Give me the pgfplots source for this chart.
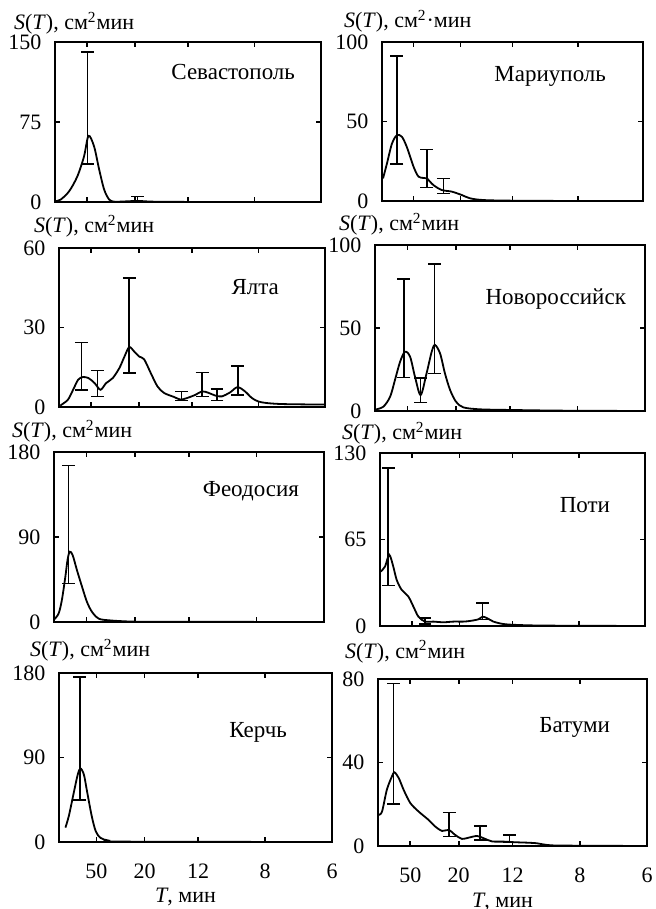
\documentclass[border=0pt]{standalone}
\usepackage{fontspec}
\setmainfont{Liberation Serif}
\usepackage{pgfplots}
\pgfplotsset{compat=1.18}
\pgfplotsset{
 panel/.style={
  scale only axis,
  anchor=south west,
  xmin=0, xmax=10, ymin=0,
  xtick={1.2,3,5,7.5,10},
  xticklabels={},
  tick align=inside,
  tick pos=both,
  major tick length=2.5pt,
  axis line style={line width=0.9pt},
  every tick/.style={black, line width=0.8pt},
  /pgf/number format/assume math mode=true,
  tick label style={font=\fontsize{11}{13}\selectfont},
  yticklabel style={xshift=-3.3pt},
  xticklabel style={anchor=base, yshift=-18pt},
  every axis y label/.style={anchor=base west, at={(rel axis cs:0,1)}, font=\fontsize{11}{13}\selectfont},
  every axis x label/.style={anchor=base, at={(rel axis cs:0.5,0)}, yshift=-30.5pt, xshift=-5pt, font=\fontsize{11}{13}\selectfont},
  ylabel={\textit{S}(\textit{T}), см\textsuperscript{2}мин},
 },
 bottomrow/.style={xticklabels={50,20,12,8,6}, xlabel={\textit{T}, мин}},
 curve/.style={black, line width=0.9pt, smooth, tension=0.5, mark=none},
 ebar/.style={black, line width=0.8pt, only marks, mark=*, mark size=0pt,
   mark options={draw=none, fill=none}, forget plot,
   error bars/.cd, y dir=both, y explicit,
   error bar style={line width=0.8pt},
   error mark options={rotate=90, mark size=3.2pt, line width=0.8pt, draw=black}},
}
\tikzset{stn/.style={anchor=base east, font=\fontsize{11.5}{13}\selectfont}}
\begin{document}
\begin{tikzpicture}
\path[use as bounding box] (0,0) rectangle (328pt,454.5pt);

% ---------- Row 1 left: Sevastopol
\begin{axis}[panel, at={(27.5pt,353.5pt)}, width=133pt, height=80pt,
  ymax=150, ytick={0,75,150}, ylabel style={xshift=-24pt, yshift=6pt}]
\addplot[curve] coordinates {(0,0.6) (0.21,2.2) (0.53,10) (0.84,24) (1.09,42.6) (1.26,62) (1.47,52) (1.66,30.5) (1.85,11.5) (2.04,2.2) (2.23,0.3) (2.6,0.5) (3.1,1) (3.6,0.4) (4.5,0.1) (10,0)};
\addplot[ebar] coordinates {(1.22,60) += (0,80.7) -= (0,24.2) (3.1,1) += (0,4.3) -= (0,0.4)};
\node[stn, xshift=-9.5pt, yshift=-19pt] at (rel axis cs:1,1) {Севастополь};
\end{axis}

% ---------- Row 1 right: Mariupol
\begin{axis}[panel, at={(191pt,354pt)}, width=130.5pt, height=79.5pt,
  ymax=100, ytick={0,50,100}, ylabel={\textit{S}(\textit{T}), см\textsuperscript{2}·мин},
  ylabel style={xshift=-22.5pt, yshift=7pt}]
\addplot[curve] coordinates {(0.04,14.2) (0.19,23.6) (0.38,36) (0.57,41.4) (0.76,40.4) (0.95,34) (1.21,21.5) (1.40,15.3) (1.6,14.5) (1.72,14.2) (1.97,10) (2.29,6.9) (2.67,5.9) (3.05,3.8) (3.37,1.7) (3.88,0.6) (5,0.2) (7.6,0) (10,0)};
\addplot[ebar] coordinates {(0.57,41.4) += (0,49.6) -= (0,18.2) (1.72,14.2) += (0,18.2) -= (0,5.8) (2.35,6.5) += (0,7.7) -= (0,1.7)};
\node[stn, xshift=-15pt, yshift=-20pt] at (rel axis cs:1,1) {Мариуполь};
\end{axis}

% ---------- Row 2 left: Yalta
\begin{axis}[panel, at={(29.5pt,251pt)}, width=133pt, height=79.5pt,
  ymax=60, ytick={0,30,60}, ylabel style={xshift=-16pt, yshift=7.5pt}]
\addplot[curve] coordinates {(0.05,0.5) (0.1,0.9) (0.34,2.8) (0.53,6.5) (0.72,10.3) (0.9,11.3) (1.11,10.9) (1.34,9) (1.56,6.5) (1.77,9) (2.02,10.9) (2.27,14.7) (2.46,19) (2.64,22.6) (2.83,20.9) (3.02,19) (3.2,18) (3.45,12.8) (3.7,7.8) (3.95,5.3) (4.32,3.8) (4.57,2.8) (4.82,3.4) (5.13,4.6) (5.38,5.9) (5.63,5.3) (5.88,4.3) (6.12,4) (6.43,5.5) (6.71,7.5) (6.99,5.9) (7.25,3.4) (7.49,2.1) (7.8,1.5) (8.43,1.1) (10,0.9)};
\addplot[ebar] coordinates {(0.84,11) += (0,13.3) -= (0,4.5) (1.44,7.5) += (0,6.3) -= (0,3.5) (2.64,22.6) += (0,26.1) -= (0,9.8) (4.61,3) += (0,2.9) -= (0,0.6) (5.38,6) += (0,7) -= (0,2) (5.94,4) += (0,2.9) -= (0,1.5) (6.72,7.5) += (0,8) -= (0,2.9)};
\node[stn, xshift=-19.5pt, yshift=-23.5pt] at (rel axis cs:1,1) {Ялта};
\end{axis}

% ---------- Row 2 right: Novorossiysk
\begin{axis}[panel, at={(187.5pt,249pt)}, width=135pt, height=83pt,
  ymax=100, ytick={0,50,100}, ylabel style={xshift=-21.5pt, yshift=7pt}]
\addplot[curve] coordinates {(0.0,0.8) (0.31,2.6) (0.56,8.6) (0.74,18.7) (0.93,29.7) (1.11,35.7) (1.30,32.7) (1.48,20.7) (1.69,9.6) (1.91,22.7) (2.1,35.7) (2.22,39.8) (2.41,34.7) (2.59,22.7) (2.78,12.7) (3.0,5.6) (3.27,2.2) (3.89,1) (5.1,0.6) (7,0.2) (10,0)};
\addplot[ebar] coordinates {(1.07,35.7) += (0,43.8) -= (0,15.6) (1.69,9.6) += (0,10.1) -= (0,4.6) (2.2,39.8) += (0,48.6) -= (0,17.1)};
\node[stn, xshift=-6pt, yshift=-30pt] at (rel axis cs:1,1) {Новороссийск};
\end{axis}

% ---------- Row 3 left: Feodosia
\begin{axis}[panel, at={(27pt,143.5pt)}, width=135pt, height=85pt,
  ymax=180, ytick={0,90,180}, ylabel style={xshift=-24.5pt, yshift=7pt}]
\addplot[curve] coordinates {(0,2.5) (0.17,8.9) (0.29,23) (0.42,47.8) (0.5,65.5) (0.58,74.4) (0.69,70.9) (0.85,54.9) (1.04,37.2) (1.22,21.3) (1.41,10.6) (1.66,3.5) (2.03,1.8) (2.65,0.7) (3.5,0.3) (10,0)};
\addplot[ebar] coordinates {(0.54,72) += (0,93.8) -= (0,31.2)};
\node[stn, xshift=-9pt, yshift=-22.5pt] at (rel axis cs:1,1) {Феодосия};
\end{axis}

% ---------- Row 3 right: Poti
\begin{axis}[panel, at={(190pt,141.5pt)}, width=132.5pt, height=86.5pt,
  ymax=130, ytick={0,65,130}, ylabel style={xshift=-22.5pt, yshift=6.5pt}]
\addplot[curve] coordinates {(0.03,40.9) (0.19,44.7) (0.35,53.5) (0.5,44.7) (0.63,34.6) (0.82,27.1) (1.07,22.1) (1.26,14.6) (1.45,7) (1.70,3.3) (2.01,3.3) (2.39,2.8) (2.77,3.3) (3.14,3.3) (3.4,3.8) (3.71,5) (3.87,7) (4.05,5.8) (4.28,3.3) (4.65,1.5) (5.16,0.8) (6.3,0.3) (10,0)};
\addplot[ebar] coordinates {(0.31,52) += (0,66.7) -= (0,21.6) (1.70,3.3) += (0,2.5) -= (0,1.8) (3.87,7) += (0,10.1) -= (0,2)};
\node[stn, xshift=-14pt, yshift=-30pt] at (rel axis cs:1,1) {Поти};
\end{axis}

% ---------- Row 4 left: Kerch
\begin{axis}[panel, bottomrow, at={(29.5pt,33.5pt)}, width=136.5pt, height=84.5pt, xmin=-0.2,
  ymax=180, ytick={0,90,180}, ylabel style={xshift=-18pt, yshift=8pt}]
\addplot[curve] coordinates {(0.04,15.3) (0.17,28) (0.36,53.6) (0.5,71.8) (0.6,78.4) (0.73,71.8) (0.85,53.6) (1.02,28) (1.17,11.7) (1.35,4.4) (1.66,1.5) (2.29,0.4) (10,0)};
\addplot[ebar] coordinates {(0.58,78) += (0,97.6) -= (0,33.5)};
\node[stn, xshift=-19pt, yshift=-32pt] at (rel axis cs:1,1) {Керчь};
\end{axis}

% ---------- Row 4 right: Batumi
\begin{axis}[panel, bottomrow, at={(189pt,31.5pt)}, width=134.5pt, height=83.5pt,
  ymax=80, ytick={0,40,80}, ylabel style={xshift=-20pt, yshift=10.5pt}]
\addplot[curve] coordinates {(0.02,14.9) (0.15,16.5) (0.33,27) (0.52,33.4) (0.61,35.3) (0.77,32.6) (0.95,27) (1.2,20.6) (1.51,16.5) (1.88,12.5) (2.13,9.3) (2.38,7.2) (2.63,7.7) (2.87,5.3) (3.12,3.4) (3.37,4) (3.68,4.8) (3.93,3.7) (4.24,2.2) (4.67,2.1) (5.1,1.8) (5.54,1.6) (5.91,1.3) (6.28,0.5) (6.9,0.2) (10,0)};
\addplot[ebar] coordinates {(0.58,35) += (0,42.9) -= (0,14.8) (2.65,7.5) += (0,8.6) -= (0,3) (3.8,4.5) += (0,5.1) -= (0,1.6) (4.89,2) += (0,3.3) -= (0,0.4)};
\node[stn, xshift=-15pt, yshift=-26.5pt] at (rel axis cs:1,1) {Батуми};
\end{axis}
\end{tikzpicture}
\end{document}
